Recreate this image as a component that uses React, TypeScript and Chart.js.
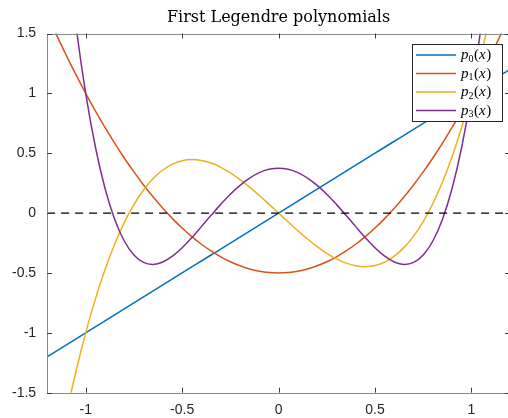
import React, { useEffect, useRef } from "react";
import { Chart, registerables } from "chart.js";

Chart.register(...registerables);

const TITLE = "First Legendre polynomials";

const xValues = [
  -1.2, -1.15, -1.1, -1.05, -1, -0.95, -0.9, -0.85, -0.8, -0.75, -0.7, -0.65, -0.6, -0.55, -0.5, -0.45, -0.4,
  -0.35, -0.3, -0.25, -0.2, -0.15, -0.1, -0.05, 0, 0.05, 0.1, 0.15, 0.2, 0.25, 0.3, 0.35, 0.4, 0.45, 0.5, 0.55,
  0.6, 0.65, 0.7, 0.75, 0.8, 0.85, 0.9, 0.95, 1, 1.05, 1.1, 1.15, 1.2,
];

const p0Values = [
  -1.2, -1.15, -1.1, -1.05, -1, -0.95, -0.9, -0.85, -0.8, -0.75, -0.7, -0.65, -0.6, -0.55, -0.5, -0.45, -0.4,
  -0.35, -0.3, -0.25, -0.2, -0.15, -0.1, -0.05, 0, 0.05, 0.1, 0.15, 0.2, 0.25, 0.3, 0.35, 0.4, 0.45, 0.5, 0.55,
  0.6, 0.65, 0.7, 0.75, 0.8, 0.85, 0.9, 0.95, 1, 1.05, 1.1, 1.15, 1.2,
];

const p1Values = [
  1.66, 1.4838, 1.315, 1.1538, 1, 0.8538, 0.715, 0.5838, 0.46, 0.3438, 0.235, 0.1338, 0.04, -0.0463, -0.125,
  -0.1963, -0.26, -0.3163, -0.365, -0.4063, -0.44, -0.4663, -0.485, -0.4963, -0.5, -0.4963, -0.485, -0.4663,
  -0.44, -0.4063, -0.365, -0.3163, -0.26, -0.1963, -0.125, -0.0463, 0.04, 0.1338, 0.235, 0.3438, 0.46, 0.5838,
  0.715, 0.8538, 1, 1.1538, 1.315, 1.4838, 1.66,
];

const p2Values = [
  -2.52, -2.0772, -1.6775, -1.3191, -1, -0.7184, -0.4725, -0.2603, -0.08, 0.0703, 0.1925, 0.2884, 0.36, 0.4091,
  0.4375, 0.4472, 0.44, 0.4178, 0.3825, 0.3359, 0.28, 0.2166, 0.1475, 0.0747, 0, -0.0747, -0.1475, -0.2166,
  -0.28, -0.3359, -0.3825, -0.4178, -0.44, -0.4472, -0.4375, -0.4091, -0.36, -0.2884, -0.1925, -0.0703, 0.08,
  0.2603, 0.4725, 0.7184, 1, 1.3191, 1.6775, 2.0772, 2.52,
];

const p3Values = [
  4.047, 3.0675, 2.2429, 1.5585, 1, 0.5541, 0.2079, -0.0506, -0.233, -0.3501, -0.4121, -0.4284, -0.408, -0.359,
  -0.2891, -0.205, -0.113, -0.0187, 0.0729, 0.1577, 0.232, 0.2928, 0.3379, 0.3657, 0.375, 0.3657, 0.3379,
  0.2928, 0.232, 0.1577, 0.0729, -0.0187, -0.113, -0.205, -0.2891, -0.359, -0.408, -0.4284, -0.4121, -0.3501,
  -0.233, -0.0506, 0.2079, 0.5541, 1, 1.5585, 2.2429, 3.0675, 4.047,
];

const seriesSubscripts = ["0", "1", "2", "3"];
const seriesColors = ["#0072BD", "#D95319", "#EDB120", "#7E2F8E"];

const zeroLineX = [-1.2, 1.2];
const zeroLineY = [0, 0];

const xTicks = [-1, -0.5, 0, 0.5, 1];
const yTicks = [-1.5, -1, -0.5, 0, 0.5, 1, 1.5];

const SANS = "'Liberation Sans', Arial, Helvetica, sans-serif";
const SERIF = "'Liberation Serif', 'Times New Roman', serif";

function toPoints(xs: number[], ys: number[]) {
  return xs.map((x, i) => ({ x, y: ys[i] }));
}

const framePlugin = {
  id: "frameAndLegend",
  afterDraw(chart: any) {
    const { ctx, chartArea: a, scales } = chart;
    ctx.save();
    // axes box
    ctx.strokeStyle = "#8a8a8a";
    ctx.lineWidth = 1;
    ctx.strokeRect(Math.round(a.left) + 0.5, Math.round(a.top) + 0.5, Math.round(a.right - a.left), Math.round(a.bottom - a.top));
    // inward ticks
    const L = 5;
    ctx.strokeStyle = "#3a3a3a";
    ctx.beginPath();
    for (const t of scales.x.ticks) {
      const px = Math.round(scales.x.getPixelForValue(t.value)) + 0.5;
      ctx.moveTo(px, a.bottom);
      ctx.lineTo(px, a.bottom - L);
      ctx.moveTo(px, a.top);
      ctx.lineTo(px, a.top + L);
    }
    for (const t of scales.y.ticks) {
      const py = Math.round(scales.y.getPixelForValue(t.value)) + 0.5;
      ctx.moveTo(a.left, py);
      ctx.lineTo(a.left + L, py);
      ctx.moveTo(a.right, py);
      ctx.lineTo(a.right - L, py);
    }
    ctx.stroke();

    // title
    ctx.fillStyle = "#000";
    ctx.font = "16px 'DejaVu Serif', serif";
    ctx.textAlign = "center";
    ctx.textBaseline = "alphabetic";
    ctx.fillText(TITLE, (a.left + a.right) / 2, 22);

    // legend
    const bx = 412.5, by = 44.5, bw = 90, bh = 77;
    ctx.fillStyle = "#fff";
    ctx.fillRect(bx, by, bw, bh);
    ctx.strokeStyle = "#262626";
    ctx.lineWidth = 1;
    ctx.strokeRect(bx, by, bw, bh);
    ctx.textAlign = "left";
    for (let i = 0; i < seriesSubscripts.length; i++) {
      const ly = 55 + i * 18.5;
      ctx.strokeStyle = seriesColors[i];
      ctx.lineWidth = 1.5;
      ctx.beginPath();
      ctx.moveTo(416, ly);
      ctx.lineTo(456, ly);
      ctx.stroke();
      let tx = 461;
      const base = ly + 4;
      ctx.fillStyle = "#000";
      ctx.font = "italic 15px " + SERIF;
      ctx.fillText("p", tx, base);
      tx += ctx.measureText("p").width;
      ctx.font = "10px " + SERIF;
      ctx.fillText(seriesSubscripts[i], tx, base + 2.5);
      tx += ctx.measureText(seriesSubscripts[i]).width + 0.5;
      ctx.font = "15px " + SERIF;
      ctx.fillText("(", tx, base);
      tx += ctx.measureText("(").width;
      ctx.font = "italic 15px " + SERIF;
      ctx.fillText("x", tx, base);
      tx += ctx.measureText("x").width + 0.5;
      ctx.font = "15px " + SERIF;
      ctx.fillText(")", tx, base);
    }
    ctx.restore();
  },
};

export default function App() {
  const canvasRef = useRef<HTMLCanvasElement | null>(null);

  useEffect(() => {
    if (!canvasRef.current) return;
    const series = [p0Values, p1Values, p2Values, p3Values];
    const datasets: any[] = series.map((ys, i) => ({
      label: "p" + seriesSubscripts[i] + "(x)",
      data: toPoints(xValues, ys),
      borderColor: seriesColors[i],
      backgroundColor: seriesColors[i],
      borderWidth: 1.5,
      pointRadius: 0,
      tension: 0.4,
      fill: false,
      order: 4 - i,
    }));
    datasets.push({
      label: "zero",
      data: toPoints(zeroLineX, zeroLineY),
      borderColor: "#000",
      borderWidth: 1.2,
      borderDash: [8, 6],
      pointRadius: 0,
      tension: 0,
      fill: false,
      order: 0,
    });

    const chart = new Chart(canvasRef.current, {
      type: "line",
      data: { datasets },
      options: {
        animation: false,
        responsive: true,
        maintainAspectRatio: false,
        parsing: false as any,
        elements: { line: { capBezierPoints: false } },
        layout: { padding: { left: 1, right: 4, top: 33.5, bottom: 2.5 } },
        plugins: { legend: { display: false }, tooltip: { enabled: false }, title: { display: false } },
        scales: {
          x: {
            type: "linear",
            min: -1.2,
            max: 1.2,
            grid: { display: false, drawTicks: false },
            border: { display: false },
            afterBuildTicks: (scale: any) => {
              scale.ticks = xTicks.map((v) => ({ value: v }));
            },
            ticks: {
              autoSkip: false,
              maxRotation: 0,
              padding: 9,
              color: "#262626",
              font: { family: SANS, size: 14 },
              callback: (v: any) => String(v),
            },
          },
          y: {
            type: "linear",
            min: -1.5,
            max: 1.5,
            grid: { display: false, drawTicks: false },
            border: { display: false },
            afterBuildTicks: (scale: any) => {
              scale.ticks = yTicks.map((v) => ({ value: v }));
            },
            ticks: {
              autoSkip: false,
              padding: 11,
              color: "#262626",
              font: { family: SANS, size: 14 },
              callback: (v: any) => String(v),
            },
          },
        },
      },
      plugins: [framePlugin],
    } as any);
    return () => chart.destroy();
  }, []);

  return (
    <div style={{ position: "fixed", left: 0, top: 0, width: 508, height: 418, overflow: "hidden", background: "#fff" }}>
      <div style={{ position: "relative", width: 514, height: 430 }}>
        <canvas ref={canvasRef} />
      </div>
    </div>
  );
}
